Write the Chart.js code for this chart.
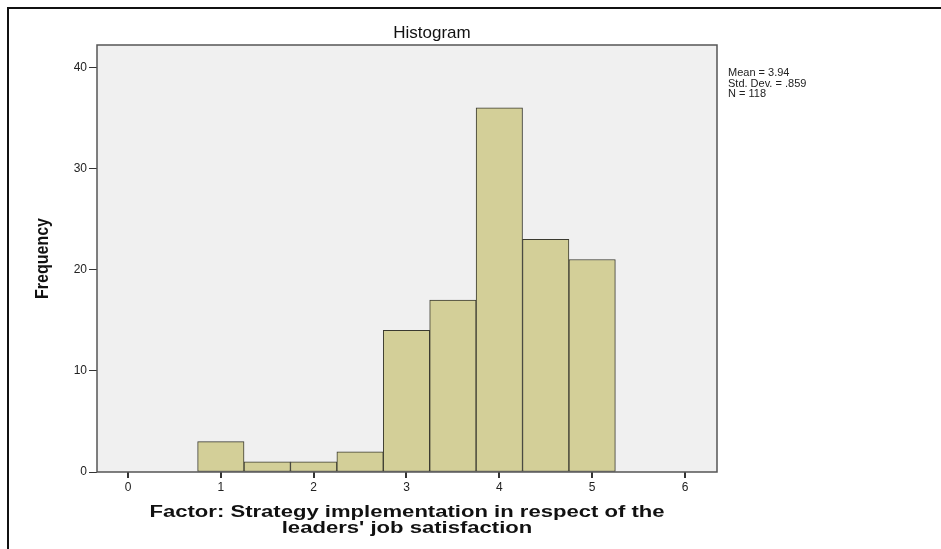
<!DOCTYPE html>
<html lang="en">
<head>
<meta charset="UTF-8">
<title>Histogram</title>
<script src="https://cdn.jsdelivr.net/npm/chart.js@4.4.0/dist/chart.umd.min.js"></script>
<style>
    html, body { margin: 0; padding: 0; background: #fff; }
    #frame { position: absolute; left: 7px; top: 7px; width: 940px; height: 548px;
             border-left: 2px solid #111; border-top: 2px solid #111; }
    #histo { position: absolute; left: 0; top: 0; }
</style>
</head>
<body>
<div id="frame"></div>
<canvas id="histo" width="941" height="549"></canvas>
<script>
    // bin midpoints (bin width .5) and counts
    var binCenters = [1, 1.5, 2, 2.5, 3, 3.5, 4, 4.5, 5];
    var frequencies = [3, 1, 1, 2, 14, 17, 36, 23, 21];
    var xTicks = [0, 1, 2, 3, 4, 5, 6];
    var yTicks = [0, 10, 20, 30, 40];
    var statsLines = ["Mean = 3.94", "Std. Dev. = .859", "N = 118"];
    var chartTitle = "Histogram";
    var yTitle = "Frequency";
    var xTitle = ["Factor: Strategy implementation in respect of the", "leaders' job satisfaction"];

    var decor = {
        id: "decor",
        beforeDatasetsDraw: function (chart) {
            var a = chart.chartArea, ctx = chart.ctx;
            ctx.save();
            ctx.fillStyle = "#f0f0f0";
            ctx.fillRect(a.left, a.top, a.right - a.left, a.bottom - a.top);
            ctx.restore();
        },
        afterDraw: function (chart) {
            var a = chart.chartArea, ctx = chart.ctx;
            ctx.save();
            ctx.strokeStyle = "#555";
            ctx.lineWidth = 1.5;
            ctx.strokeRect(a.left, a.top, a.right - a.left, a.bottom - a.top);

            var cx = (a.left + a.right) / 2;
            ctx.fillStyle = "#111";
            ctx.textAlign = "center";
            ctx.textBaseline = "middle";
            // title sits over the whole chart, legend included
            ctx.font = "17px Arial, 'Liberation Sans'";
            ctx.fillText(chartTitle, 432, 33);

            ctx.font = "bold 16px Arial, 'Liberation Sans'";
            var w = ctx.measureText(xTitle[0]).width;
            ctx.save();
            ctx.translate(cx, 0);
            ctx.scale(515 / w, 1);
            ctx.fillText(xTitle[0], 0, 513);
            ctx.fillText(xTitle[1], 0, 529);
            ctx.restore();

            ctx.save();
            ctx.font = "bold 18px 'Liberation Sans Narrow', Arial";
            var fw = ctx.measureText(yTitle).width;
            ctx.translate(43, (a.top + a.bottom) / 2);
            ctx.rotate(-Math.PI / 2);
            ctx.scale(81 / fw, 1);
            ctx.fillText(yTitle, 0, 0);
            ctx.restore();

            ctx.textAlign = "left";
            ctx.font = "11px Arial, 'Liberation Sans'";
            ctx.fillStyle = "#222";
            statsLines.forEach(function (s, i) {
                ctx.fillText(s, 728, 73 + i * 10.5);
            });
            ctx.restore();
        }
    };

    new Chart("histo", {
        type: "bar",
        data: {
            datasets: [{
                data: binCenters.map(function (x, i) { return { x: x, y: frequencies[i] }; }),
                backgroundColor: "#d3cf98",
                borderColor: "#3a3a30",
                borderWidth: 1,
                borderSkipped: false,
                barPercentage: 1,
                categoryPercentage: 1
            }]
        },
        options: {
            responsive: false,
            animation: false,
            layout: { padding: { left: 0, top: 45, right: 224, bottom: 0 } },
            plugins: { legend: { display: false }, tooltip: { enabled: false } },
            scales: {
                x: {
                    type: "linear",
                    offset: false,
                    min: -0.334,
                    max: 6.345,
                    afterBuildTicks: function (s) { s.ticks = xTicks.map(function (v) { return { value: v }; }); },
                    afterFit: function (s) { s.height = 77; },
                    grid: { offset: false, drawOnChartArea: false, tickLength: 6, color: "#333", lineWidth: 2 },
                    border: { display: false },
                    ticks: { color: "#222", font: { size: 12, family: "Arial" }, padding: 2, maxRotation: 0 }
                },
                y: {
                    min: 0,
                    max: 42.2,
                    afterBuildTicks: function (s) { s.ticks = yTicks.map(function (v) { return { value: v }; }); },
                    afterFit: function (s) { s.width = 97; },
                    grid: { drawOnChartArea: false, tickLength: 8, color: "#333", lineWidth: 1 },
                    border: { display: false },
                    ticks: { color: "#222", font: { size: 12, family: "Arial" }, padding: 2 }
                }
            }
        },
        plugins: [decor]
    });
</script>
</body>
</html>
